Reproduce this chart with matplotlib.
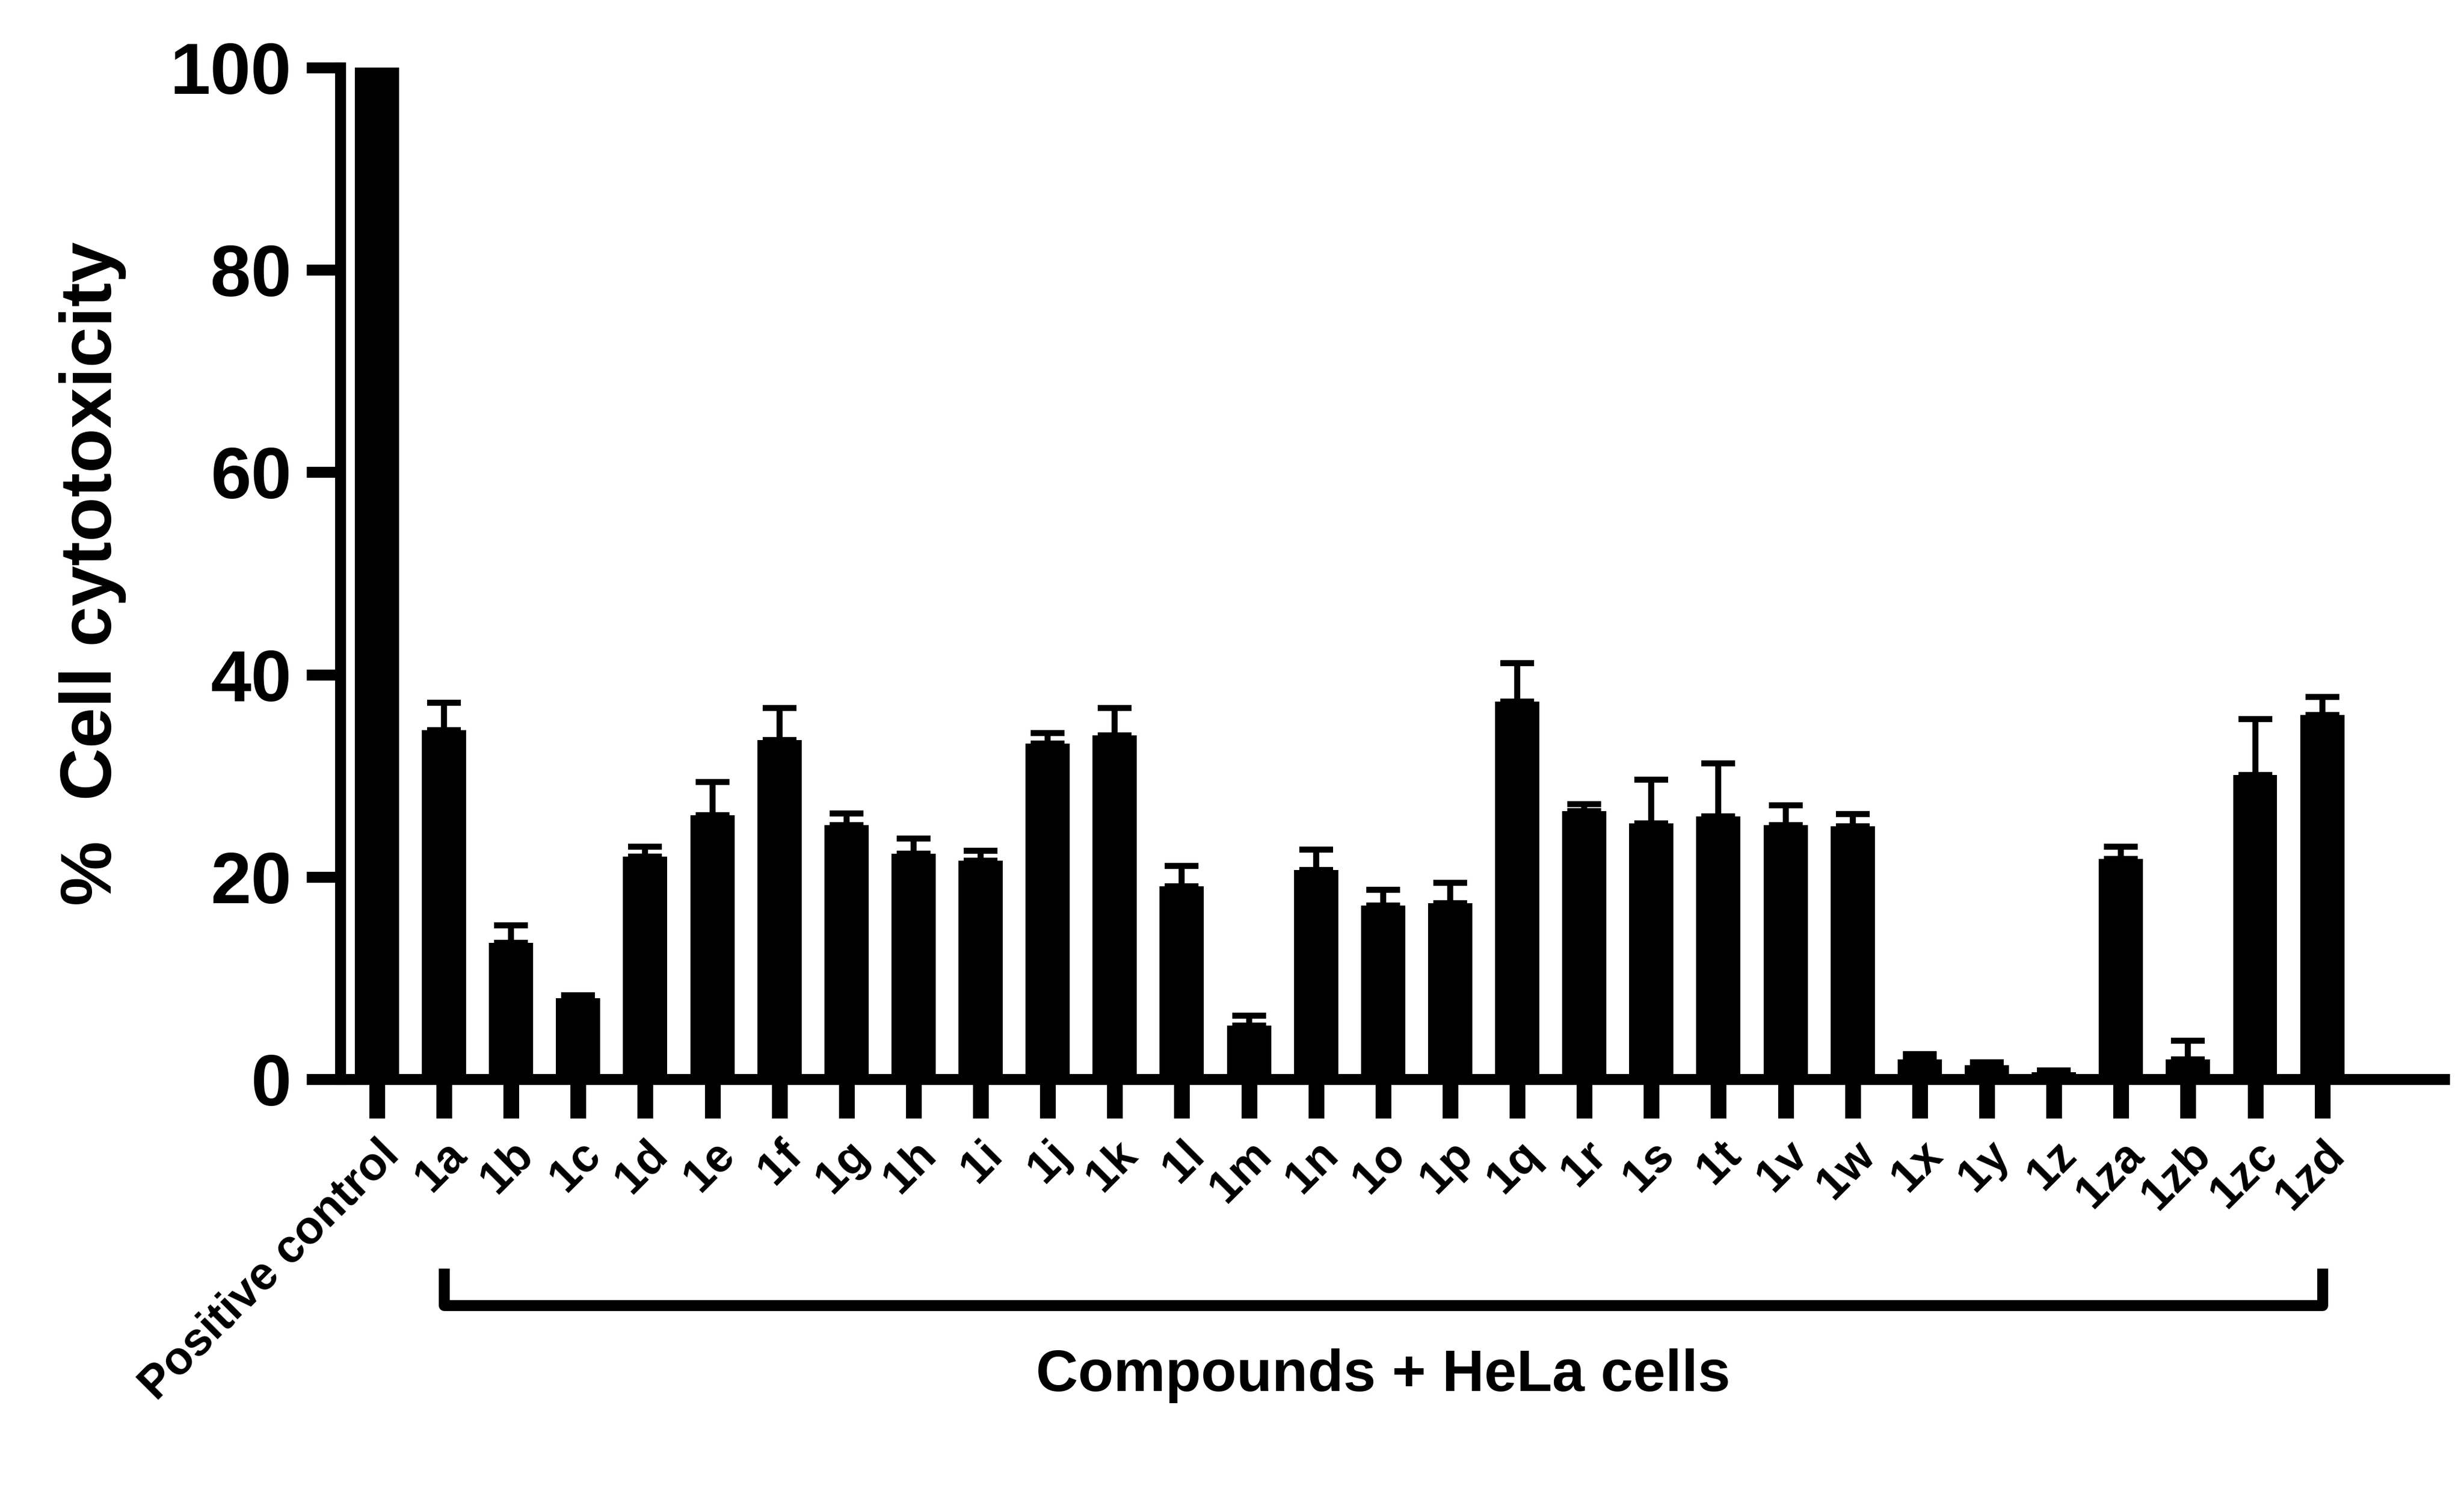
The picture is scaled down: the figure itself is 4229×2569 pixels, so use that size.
import matplotlib.pyplot as plt
import numpy as np

labels = ['Positive control', '1a', '1b', '1c', '1d', '1e', '1f', '1g', '1h', '1i', '1j',
          '1k', '1l', '1m', '1n', '1o', '1p', '1q', '1r', '1s', '1t', '1v', '1w', '1x',
          '1y', '1z', '1za', '1zb', '1zc', '1zd']
values = [100, 34.5, 13.5, 8.0, 22.0, 26.1, 33.5, 25.1, 22.3, 21.6, 33.2,
          34.0, 19.1, 5.3, 20.7, 17.2, 17.4, 37.3, 26.5, 25.3, 26.0, 25.1, 25.0, 2.0,
          1.4, 0.7, 21.8, 2.0, 30.1, 36.0]
errors = [0, 2.7, 1.7, 0.3, 1.0, 3.3, 3.2, 1.2, 1.5, 1.0, 1.0,
          2.7, 2.0, 1.0, 2.0, 1.5, 2.0, 3.8, 0.7, 4.3, 5.2, 2.0, 1.2, 0.5,
          0.3, 0.2, 1.2, 1.8, 5.5, 1.8]

plt.rcParams['font.family'] = ['Liberation Sans', 'DejaVu Sans']
plt.rcParams['font.weight'] = 'bold'

fig = plt.figure(figsize=(4229 / 300, 2569 / 300), dpi=300)
ax = fig.add_axes([0.138, 0.279, 0.854, 0.676])

x = np.arange(len(labels))
ax.bar(x, values, width=0.66, color='black', zorder=2)
ax.errorbar(x, values, yerr=[np.zeros(len(errors)), errors], fmt='none',
            ecolor='black', elinewidth=2.5, capsize=7, capthick=2.5, zorder=1)

ax.set_xlim(-0.55, 30.82)
ax.set_ylim(0, 100)
ax.set_yticks([0, 20, 40, 60, 80, 100])
ax.set_xticks(x)
ax.set_xticklabels(labels, rotation=45, ha='right', rotation_mode='anchor', fontsize=19,
                   fontweight='bold')
for t in ax.get_yticklabels():
    t.set_fontsize(30)
    t.set_fontweight('bold')

for s in ['top', 'right']:
    ax.spines[s].set_visible(False)
for s in ['left', 'bottom']:
    ax.spines[s].set_linewidth(4.5)
ax.tick_params(axis='y', length=14, width=4.5, pad=6)
ax.tick_params(axis='x', length=16, width=6.5, pad=6)

ax.set_ylabel('%  Cell cytotoxicity', fontsize=30, fontweight='bold', labelpad=18)

# bracket under compounds
ax.plot([1, 1, 29, 29], [-19.2, -22.3, -22.3, -19.2], color='black', lw=4.5,
        clip_on=False)
ax.text(15, -29.3, 'Compounds + HeLa cells', ha='center', va='center', fontsize=24,
        fontweight='bold')

fig.savefig('out.png', dpi=300)
